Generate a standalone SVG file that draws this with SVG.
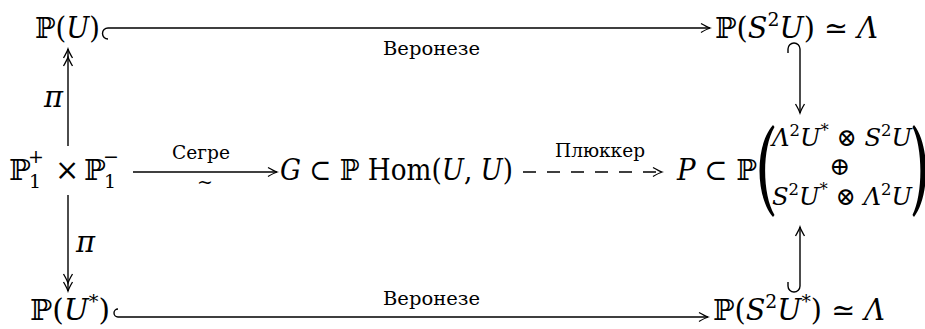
<svg xmlns="http://www.w3.org/2000/svg" width="925" height="329" viewBox="0 0 925 329">
<style>
text{font-family:"DejaVu Serif","Liberation Serif",serif;fill:#000}
.m{font-size:29px}
.r{font-size:25px}
.s{font-size:19px}
.t{font-size:17px}
.l{font-size:19px}
.i{font-style:italic}
.ln{stroke:#000;stroke-width:1.4;fill:none}
.d{stroke-dasharray:13 11}
</style>
<defs>
<marker id="ah" markerWidth="12" markerHeight="12" refX="0" refY="0" viewBox="-10 -6 12 12" orient="auto" markerUnits="userSpaceOnUse">
<path d="M-9,-4.5 Q-3,-1 0,0 Q-3,1 -9,4.5" fill="none" stroke="#000" stroke-width="1.3"/>
</marker>
<marker id="ah2" markerWidth="22" markerHeight="12" refX="0" refY="0" viewBox="-20 -6 22 12" orient="auto" markerUnits="userSpaceOnUse">
<path d="M-9,-4.5 Q-3,-1 0,0 Q-3,1 -9,4.5 M-17,-4.5 Q-11,-1 -8,0 Q-11,1 -17,4.5" fill="none" stroke="#000" stroke-width="1.3"/>
</marker>
</defs>
<g id="connectors">
<path class="ln" d="M108,39 A5.5,5.5 0 0 1 108,28 L710,28" marker-end="url(#ah)"/>
<path class="ln" d="M118,309 A4,4 0 0 0 118,317 L708,317" marker-end="url(#ah)"/>
<path class="ln" d="M788,53 L788,49 A6,6 0 0 1 800,49 L800,113" marker-end="url(#ah)"/>
<path class="ln" d="M788,282 L788,286 A6,6 0 0 0 800,286 L800,227" marker-end="url(#ah)"/>
<path class="ln" d="M68,146 L68,49" marker-end="url(#ah2)"/>
<path class="ln" d="M68,195 L68,291" marker-end="url(#ah2)"/>
<path class="ln" d="M133,172 L277,172" marker-end="url(#ah)"/>
<path class="ln d" d="M523,172 L662,172" marker-end="url(#ah)"/>
<text class="l" x="383" y="55" textLength="97" lengthAdjust="spacingAndGlyphs">Веронезе</text>
<text class="l" x="383" y="305" textLength="97" lengthAdjust="spacingAndGlyphs">Веронезе</text>
<text class="l" x="172" y="159" textLength="58" lengthAdjust="spacingAndGlyphs">Сегре</text>
<text class="l" x="205" y="188" text-anchor="middle">~</text>
<text class="l" x="555" y="157" textLength="90" lengthAdjust="spacingAndGlyphs">Плюккер</text>
<text class="m i" x="44" y="107" font-size="26">π</text>
<text class="m i" x="76" y="252" font-size="26">π</text>
</g>
<g id="PU">
<text class="m" x="35" y="38" textLength="65" lengthAdjust="spacingAndGlyphs">ℙ(<tspan class="i">U</tspan>)</text>
</g>
<g id="PS2U">
<text class="m" x="715" y="38" textLength="163" lengthAdjust="spacingAndGlyphs">ℙ(<tspan class="i">S</tspan><tspan class="s" dy="-12">2</tspan><tspan class="i" dy="12">U</tspan>) ≃ <tspan class="i">Λ</tspan></text>
</g>
<g id="P1P1">
<text class="m" x="9" y="180">ℙ</text>
<text class="s" x="28" y="163">+</text>
<text class="s" x="29" y="188">1</text>
<text class="m" x="55" y="180">×</text>
<text class="m" x="84" y="180">ℙ</text>
<text class="s" x="103" y="163">−</text>
<text class="s" x="104" y="188">1</text>
</g>
<g id="G">
<text class="m" x="280" y="180" font-size="27" textLength="233" lengthAdjust="spacingAndGlyphs"><tspan class="i">G</tspan> ⊂ ℙ Hom(<tspan class="i">U</tspan>, <tspan class="i">U</tspan>)</text>
</g>
<g id="P">
<text class="m" x="677" y="180" textLength="80" lengthAdjust="spacingAndGlyphs"><tspan class="i">P</tspan> ⊂ ℙ</text>
<path d="M773,125 C755,145 755,196 773,217 L774.5,215 C762,194 762,148 774.5,127 Z"/>
<path d="M914,125 C930,145 930,196 914,217 L912.5,215 C923,194 923,148 912.5,127 Z"/>
<text class="r" x="772" y="146" textLength="140" lengthAdjust="spacingAndGlyphs"><tspan class="i">Λ</tspan><tspan class="t" dy="-10">2</tspan><tspan class="i" dy="10">U</tspan><tspan class="t" dy="-10">*</tspan><tspan dy="10"> ⊗ </tspan><tspan class="i">S</tspan><tspan class="t" dy="-10">2</tspan><tspan class="i" dy="10">U</tspan></text>
<text class="r" x="840" y="175" text-anchor="middle" font-size="23">⊕</text>
<text class="r" x="772" y="205" textLength="140" lengthAdjust="spacingAndGlyphs"><tspan class="i">S</tspan><tspan class="t" dy="-10">2</tspan><tspan class="i" dy="10">U</tspan><tspan class="t" dy="-10">*</tspan><tspan dy="10"> ⊗ </tspan><tspan class="i">Λ</tspan><tspan class="t" dy="-10">2</tspan><tspan class="i" dy="10">U</tspan></text>
</g>
<g id="PUs">
<text class="m" x="30" y="320" textLength="80" lengthAdjust="spacingAndGlyphs">ℙ(<tspan class="i">U</tspan><tspan class="s" dy="-12">*</tspan><tspan dy="12">)</tspan></text>
</g>
<g id="PS2Us">
<text class="m" x="713" y="320" textLength="172" lengthAdjust="spacingAndGlyphs">ℙ(<tspan class="i">S</tspan><tspan class="s" dy="-12">2</tspan><tspan class="i" dy="12">U</tspan><tspan class="s" dy="-12">*</tspan><tspan dy="12">) ≃ </tspan><tspan class="i">Λ</tspan></text>
</g>
</svg>
